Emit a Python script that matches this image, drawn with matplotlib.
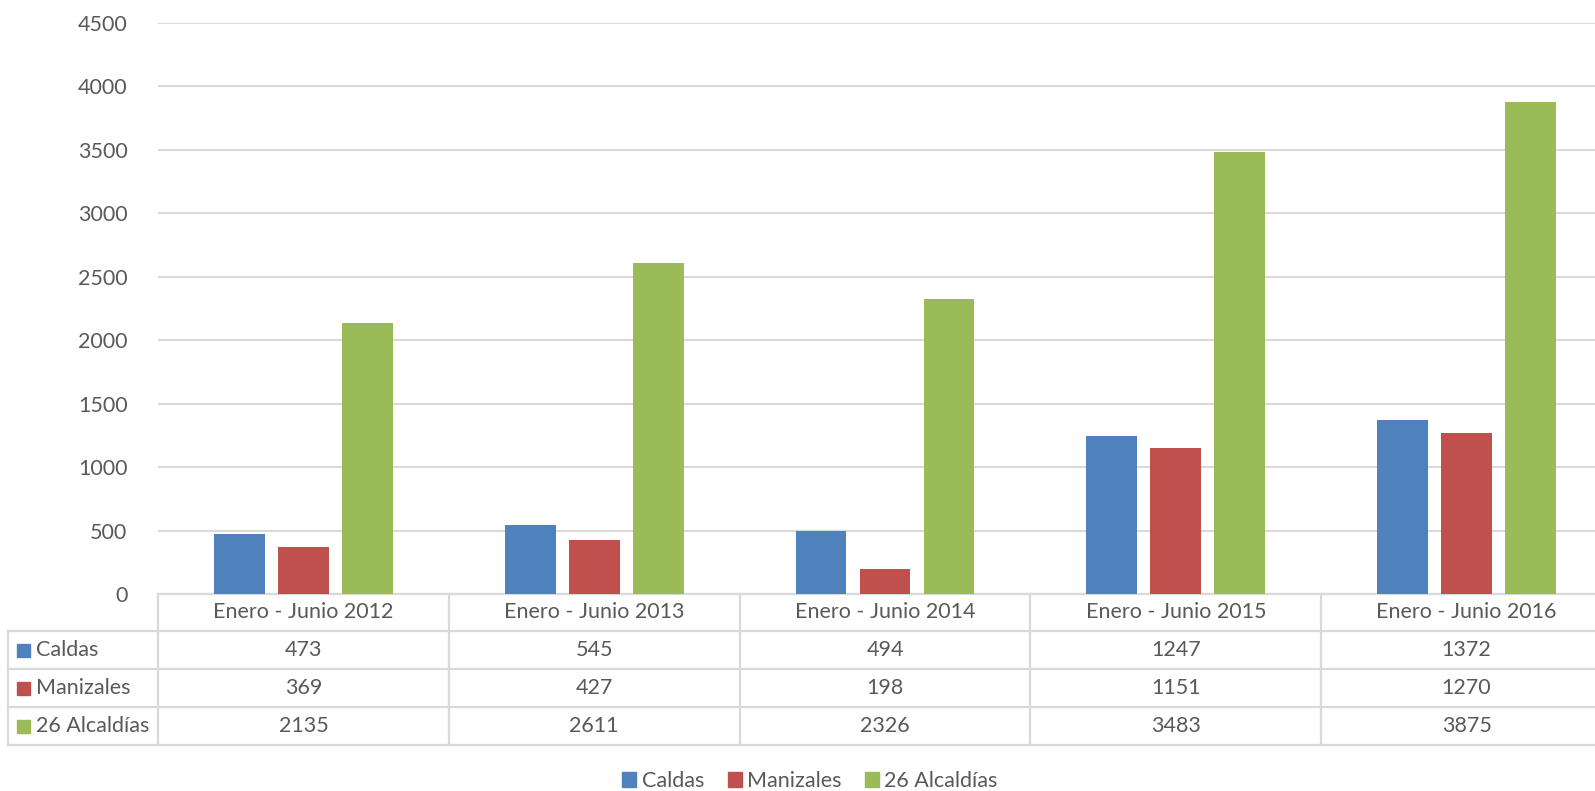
import matplotlib
matplotlib.use('Agg')
import matplotlib.pyplot as plt
from matplotlib.patches import Patch, Rectangle
from matplotlib.lines import Line2D
import numpy as np

plt.rcParams['font.family'] = ['Lato', 'DejaVu Sans']

# datos
periodos = ['Enero - Junio 2012', 'Enero - Junio 2013', 'Enero - Junio 2014',
            'Enero - Junio 2015', 'Enero - Junio 2016']
series = ['Caldas', 'Manizales', '26 Alcaldías']
caldas = [473, 545, 494, 1247, 1372]
manizales = [369, 427, 198, 1151, 1270]
alcaldias = [2135, 2611, 2326, 3483, 3875]
yticks = [0, 500, 1000, 1500, 2000, 2500, 3000, 3500, 4000, 4500]

colores = ['#4F81BD', '#C0504D', '#9BBB59']
texto = '#595959'
grid = '#D9D9D9'
fs = 15.5

W, H = 1595, 791
fig = plt.figure(figsize=(W / 100, H / 100), dpi=100)

# area del grafico en pixeles (se sale un poco por la derecha, como el original)
x0, x1 = 158, 1612
ytop, ybot = 23, 594
ax = fig.add_axes([x0 / W, 1 - ybot / H, (x1 - x0) / W, (ybot - ytop) / H])

n = len(periodos)
x = np.arange(n)
ancho = 0.175
paso = 0.22
valores = [caldas, manizales, alcaldias]
for i, (vals, col) in enumerate(zip(valores, colores)):
    ax.bar(x + (i - 1) * paso, vals, ancho, color=col, zorder=3)

ax.set_xlim(-0.5, n - 0.5)
ax.set_ylim(0, 4500)
ax.set_yticks(yticks)
ax.set_yticklabels([str(t) for t in yticks], fontsize=fs, color=texto)
ax.tick_params(axis='y', length=0, pad=22)
ax.set_xticks([])
for s in ax.spines.values():
    s.set_visible(False)
ax.yaxis.grid(True, color=grid, linewidth=1.5, zorder=0)

# tabla de datos debajo
cat_px = (x1 - x0) / n
def px2data(px):
    return -0.5 + (px - x0) / cat_px
def py2ax(py):
    return (ybot - py) / (ybot - ytop)

tr = ax.get_xaxis_transform()
filas = [594, 631, 669, 707, 745]
xl = px2data(8)
xr = n - 0.5 + 0.2

def linea(xs, ys):
    ax.add_line(Line2D(xs, ys, transform=tr, color=grid, linewidth=1.6,
                       clip_on=False, zorder=1))

linea([-0.5, xr], [py2ax(594)] * 2)
for py in filas[1:]:
    linea([xl, xr], [py2ax(py)] * 2)
linea([xl, xl], [py2ax(631), py2ax(745)])
for k in range(n + 1):
    linea([k - 0.5, k - 0.5], [py2ax(594), py2ax(745)])

yc = [(filas[j] + filas[j + 1]) / 2 for j in range(4)]
for k, p in enumerate(periodos):
    ax.text(k, py2ax(yc[0]), p, transform=tr, ha='center', va='center',
            fontsize=fs, color=texto, clip_on=False)
for j, (nom, vals, col) in enumerate(zip(series, valores, colores)):
    yy = py2ax(yc[j + 1])
    ax.add_patch(Rectangle((px2data(17), py2ax(yc[j + 1] + 6.5)),
                           13 / cat_px, 13 / (ybot - ytop),
                           transform=tr, color=col, clip_on=False))
    ax.text(px2data(36), yy, nom, transform=tr, ha='left', va='center',
            fontsize=fs, color=texto, clip_on=False)
    for k, v in enumerate(vals):
        ax.text(k, yy, str(v), transform=tr, ha='center', va='center',
                fontsize=fs, color=texto, clip_on=False)

# leyenda
handles = [Patch(color=c, label=s) for c, s in zip(colores, series)]
fig.legend(handles=handles, loc='center', bbox_to_anchor=(810 / W, 1 - 781 / H),
           ncol=3, frameon=False, fontsize=fs, labelcolor=texto,
           handlelength=0.65, handleheight=0.65, handletextpad=0.25,
           columnspacing=1.1)

fig.savefig('out.png', dpi=100)
